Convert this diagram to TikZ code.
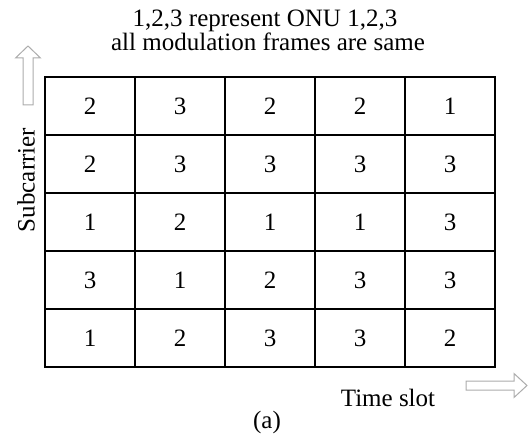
\documentclass[tikz,border=0pt]{standalone}
\usepackage{fontspec}
\setmainfont{Liberation Serif}
\usepackage{tikz}

\begin{document}
\begin{tikzpicture}[x=1pt, y=1pt, >=latex,
    every node/.style={font=\fontsize{25}{24}\selectfont, inner sep=0pt},
    frame/.style={line width=2.4pt, line join=miter},
    num/.style={anchor=center},
    hollowarrow/.style={draw=gray!65, line width=1pt, fill=white, line join=miter}]
   \useasboundingbox (0,0) rectangle (530,440);
   % title
   \node[anchor=base] (title1) at (265,413) {1,2,3 represent ONU 1,2,3};
   \node[anchor=base] (title2) at (268,389) {all modulation frames are same};
   % grid of time slots x subcarriers
   \draw[frame, shift={(45,73)}] (0,0) grid[xstep=90, ystep=58] (450,290);
   \draw[frame] (45,73) rectangle (495,363);
   \foreach \row [count=\r] in {{2,3,2,2,1},{2,3,3,3,3},{1,2,1,1,3},{3,1,2,3,3},{1,2,3,3,2}}
      \foreach \v [count=\c] in \row
         \node[num] (c\r\c) at ({90*\c}, {392-58*\r}) {\v};
   % axes
   \draw[hollowarrow] (23,335) -- (23,382) -- (15.5,382) -- (28,394) -- (40.5,382)
                      -- (33,382) -- (33,335) -- cycle;
   \node[rotate=90] (ylab) at (26,260) {Subcarrier};
   \draw[hollowarrow] (466,50) -- (514,50) -- (514,42.5) -- (527,54.5) -- (514,66.5)
                      -- (514,59) -- (466,59) -- cycle;
   \node[anchor=base] (xlab) at (388,34) {Time slot};
   \node[anchor=base] (caption) at (267,12) {(a)};
\end{tikzpicture}
\end{document}
